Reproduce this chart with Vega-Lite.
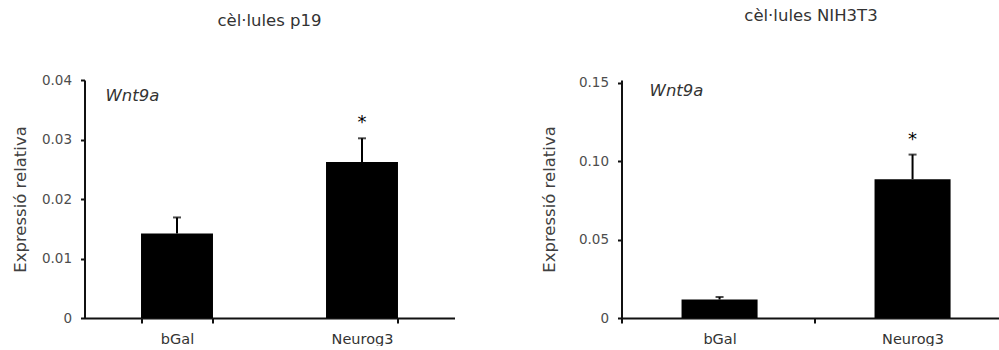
{
  "$schema": "https://vega.github.io/schema/vega-lite/v6.json",
  "background": "white",
  "padding": {"left": 11.5, "top": 8, "right": 0, "bottom": 0},
  "bounds": "flush",
  "spacing": 167,
  "config": {
    "font": "DejaVu Sans",
    "view": {"stroke": null},
    "axis": {"grid": false, "domainColor": "#111111", "domainWidth": 2, "tickColor": "#111111", "tickWidth": 2, "labelFont": "DejaVu Sans", "labelColor": "#4d4d4d", "titleFont": "DejaVu Sans", "titleFontWeight": "normal", "titleColor": "#404040"},
    "title": {"font": "DejaVu Sans", "fontWeight": "normal", "fontSize": 16.5, "color": "#333333"}
  },
  "hconcat": [
    {
      "title": {"text": "cèl·lules p19", "offset": 44},
      "width": 370,
      "height": 238,
      "data": {"values": [
        {"grup": "bGal", "valor": 0.0142, "superior": 0.0169, "sig": ""},
        {"grup": "Neurog3", "valor": 0.0262, "superior": 0.0302, "sig": "*"}
      ]},
      "layer": [
        {
          "mark": {"type": "bar", "color": "black"},
          "encoding": {
            "x": {"field": "grup", "type": "nominal", "scale": {"domain": ["bGal", "Neurog3"], "paddingInner": 0.611, "paddingOuter": 0.3055}, "axis": {"title": null, "labelAngle": 0, "tickBand": "extent", "tickSize": 5, "labelPadding": 9, "labelFontSize": 14.5, "labelColor": "#333333"}},
            "y": {"field": "valor", "type": "quantitative", "scale": {"domain": [0, 0.04], "nice": false}, "axis": {"title": "Expressió relativa", "values": [0, 0.01, 0.02, 0.03, 0.04], "labelExpr": "datum.value == 0 ? '0' : format(datum.value, '.2f')", "tickSize": 4, "labelPadding": 9, "labelFontSize": 13.5, "titleFontSize": 16.5, "titlePadding": 13}}
          }
        },
        {
          "mark": {"type": "rule", "strokeWidth": 2, "color": "black"},
          "encoding": {
            "x": {"field": "grup", "type": "nominal"},
            "y": {"field": "valor", "type": "quantitative"},
            "y2": {"field": "superior"}
          }
        },
        {
          "mark": {"type": "tick", "orient": "horizontal", "size": 8, "thickness": 2, "color": "black"},
          "encoding": {
            "x": {"field": "grup", "type": "nominal"},
            "y": {"field": "superior", "type": "quantitative"}
          }
        },
        {
          "mark": {"type": "text", "fontSize": 18, "baseline": "alphabetic", "dy": -10, "color": "black"},
          "encoding": {
            "x": {"field": "grup", "type": "nominal"},
            "y": {"field": "superior", "type": "quantitative"},
            "text": {"field": "sig"}
          }
        },
        {
          "data": {"values": [{"gen": "Wnt9a"}]},
          "mark": {"type": "text", "align": "left", "baseline": "alphabetic", "dx": -71.5, "dy": 21, "fontStyle": "italic", "fontSize": 16.5, "color": "#333333"},
          "encoding": {
            "x": {"datum": "bGal", "type": "nominal"},
            "y": {"datum": 0.04, "type": "quantitative"},
            "text": {"field": "gen"}
          }
        }
      ]
    },
    {
      "title": {"text": "cèl·lules NIH3T3", "offset": 51},
      "width": 379,
      "height": 238,
      "data": {"values": [
        {"grup": "bGal", "valor": 0.0118, "superior": 0.0134, "sig": ""},
        {"grup": "Neurog3", "valor": 0.0886, "superior": 0.1043, "sig": "*"}
      ]},
      "layer": [
        {
          "mark": {"type": "bar", "color": "black"},
          "encoding": {
            "x": {"field": "grup", "type": "nominal", "scale": {"domain": ["bGal", "Neurog3"], "paddingInner": 0.606, "paddingOuter": 0.2849, "align": 0.546}, "axis": {"title": null, "labelAngle": 0, "tickOffset": -98, "labelOffset": 98, "tickSize": 5, "labelPadding": 9, "labelFontSize": 14.5, "labelColor": "#333333"}},
            "y": {"field": "valor", "type": "quantitative", "scale": {"domain": [0, 0.1519], "nice": false}, "axis": {"title": "Expressió relativa", "values": [0, 0.05, 0.1, 0.15], "labelExpr": "datum.value == 0 ? '0' : format(datum.value, '.2f')", "tickSize": 4, "labelPadding": 9, "labelFontSize": 13.5, "titleFontSize": 16.5, "titlePadding": 21}}
          }
        },
        {
          "mark": {"type": "rule", "strokeWidth": 2, "color": "black"},
          "encoding": {
            "x": {"field": "grup", "type": "nominal"},
            "y": {"field": "valor", "type": "quantitative"},
            "y2": {"field": "superior"}
          }
        },
        {
          "mark": {"type": "tick", "orient": "horizontal", "size": 8, "thickness": 2, "color": "black"},
          "encoding": {
            "x": {"field": "grup", "type": "nominal"},
            "y": {"field": "superior", "type": "quantitative"}
          }
        },
        {
          "mark": {"type": "text", "fontSize": 18, "baseline": "alphabetic", "dy": -10, "color": "black"},
          "encoding": {
            "x": {"field": "grup", "type": "nominal"},
            "y": {"field": "superior", "type": "quantitative"},
            "text": {"field": "sig"}
          }
        },
        {
          "data": {"values": [{"gen": "Wnt9a"}]},
          "mark": {"type": "text", "align": "left", "baseline": "alphabetic", "dx": -70, "dy": 16, "fontStyle": "italic", "fontSize": 16.5, "color": "#333333"},
          "encoding": {
            "x": {"datum": "bGal", "type": "nominal"},
            "y": {"datum": 0.1519, "type": "quantitative"},
            "text": {"field": "gen"}
          }
        }
      ]
    }
  ]
}
